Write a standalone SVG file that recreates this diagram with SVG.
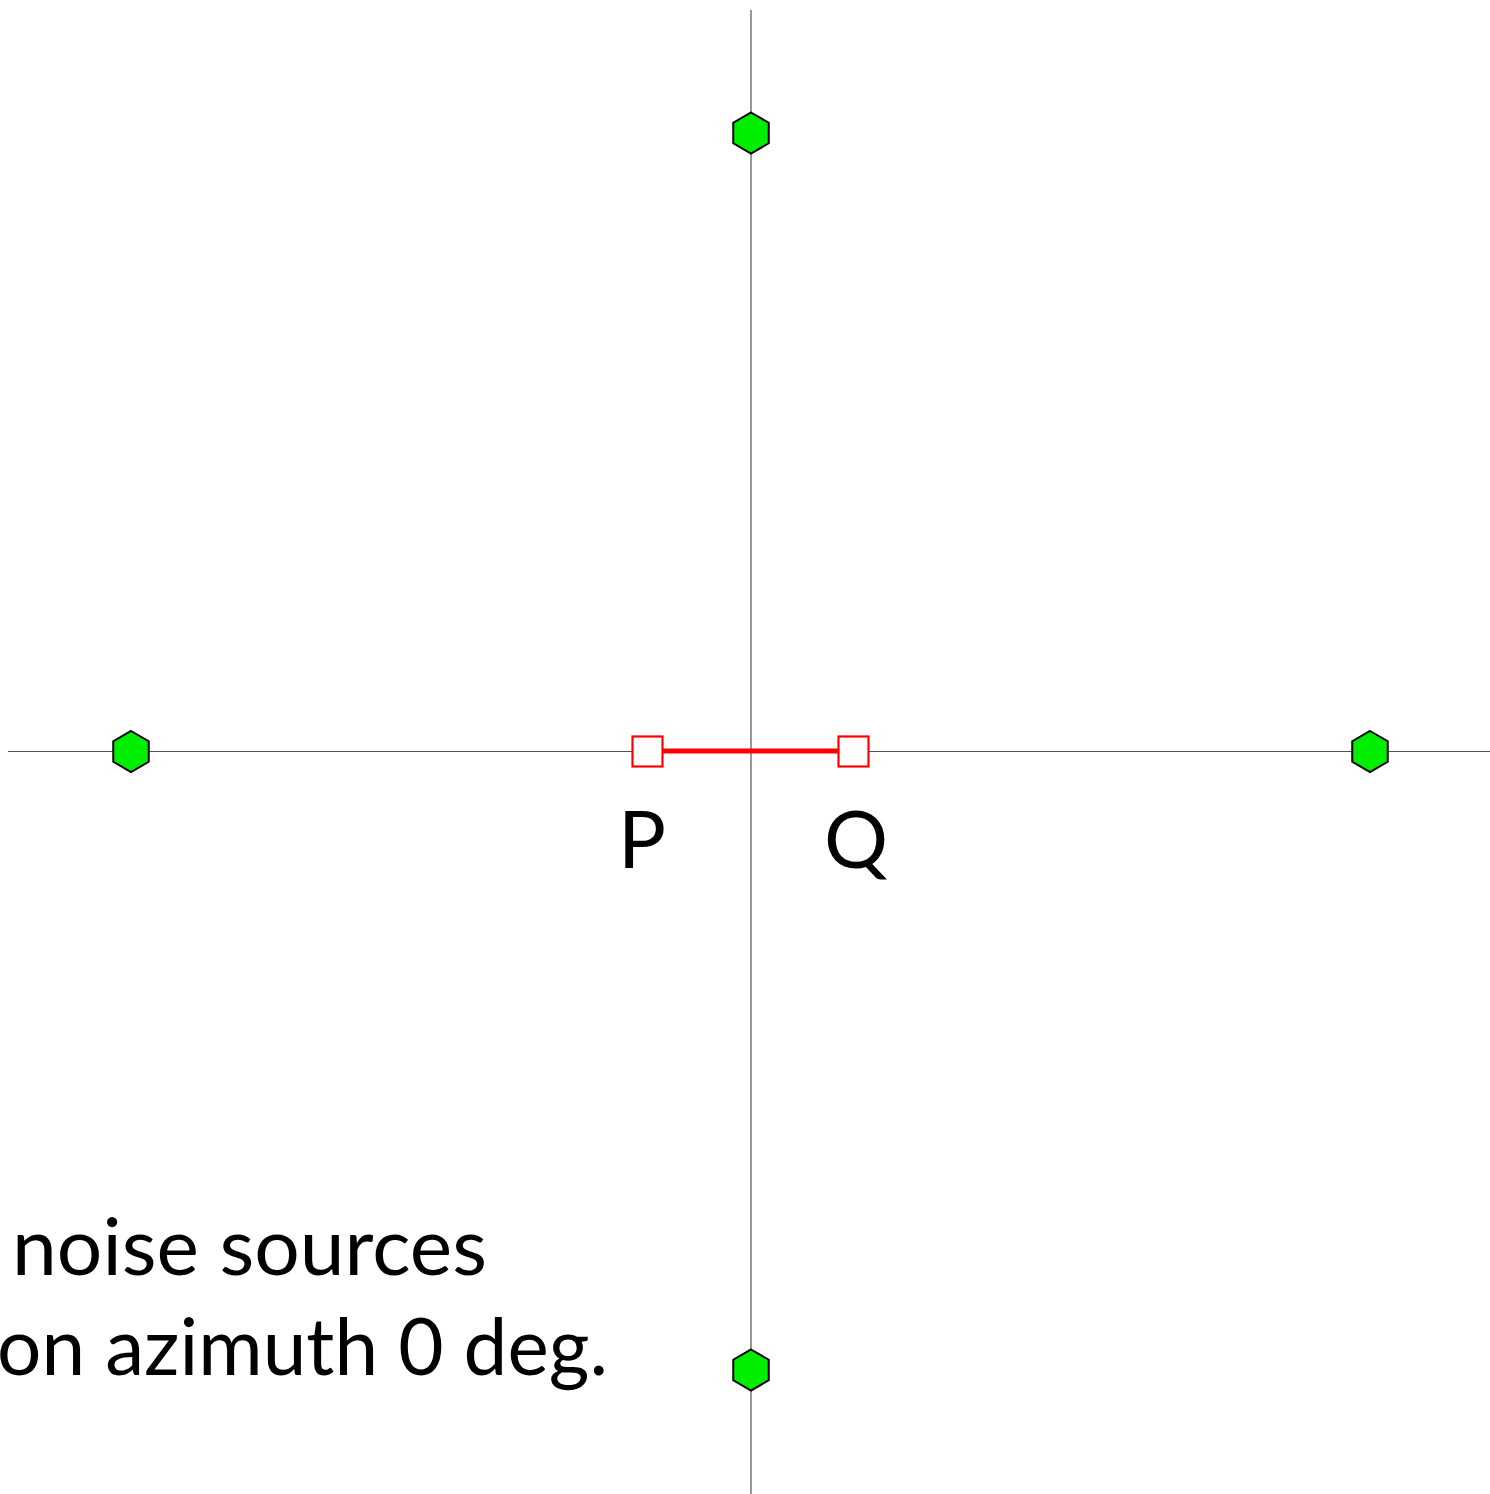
<svg xmlns="http://www.w3.org/2000/svg" width="1490" height="1494" viewBox="0 0 1490 1494">
<style>
.axis{stroke:#555;stroke-width:1.2;fill:none}
.src{fill:#00ee00;stroke:#000;stroke-width:2}
.mic{fill:#fff;stroke:#ff0000;stroke-width:2.2}
.lbl{font-family:"Lato","Open Sans","Liberation Sans",sans-serif;font-size:80px;fill:#000}
</style>
<defs>
<polygon id="hex" points="0,-20.5 17.75,-10.25 17.75,10.25 0,20.5 -17.75,10.25 -17.75,-10.25"/>
</defs>
<rect width="1490" height="1494" fill="#fff"/>
<g id="axes">
<line class="axis" x1="8" y1="751.5" x2="1490" y2="751.5"/>
<line class="axis" x1="751" y1="10" x2="751" y2="1494"/>
</g>
<g id="connectors">
<line x1="663" y1="751" x2="838" y2="751" stroke="#ff0000" stroke-width="5"/>
</g>
<g id="src-top"><use href="#hex" class="src" x="751" y="133"/></g>
<g id="src-left"><use href="#hex" class="src" x="131" y="751.5"/></g>
<g id="src-right"><use href="#hex" class="src" x="1370" y="751.5"/></g>
<g id="src-bottom"><use href="#hex" class="src" x="751" y="1370"/></g>
<g id="mic-P"><rect class="mic" x="632.5" y="736.5" width="30" height="30"/></g>
<g id="mic-Q"><rect class="mic" x="838.5" y="736.5" width="30" height="30"/></g>
<g id="labels">
<text class="lbl" x="618" y="868">P</text>
<text class="lbl" x="824" y="868">Q</text>
<text class="lbl" x="487" y="1275" text-anchor="end" textLength="475" lengthAdjust="spacingAndGlyphs">noise sources</text>
<text class="lbl" x="608" y="1375" text-anchor="end" textLength="611" lengthAdjust="spacingAndGlyphs">on azimuth 0 deg.</text>
</g>
</svg>
